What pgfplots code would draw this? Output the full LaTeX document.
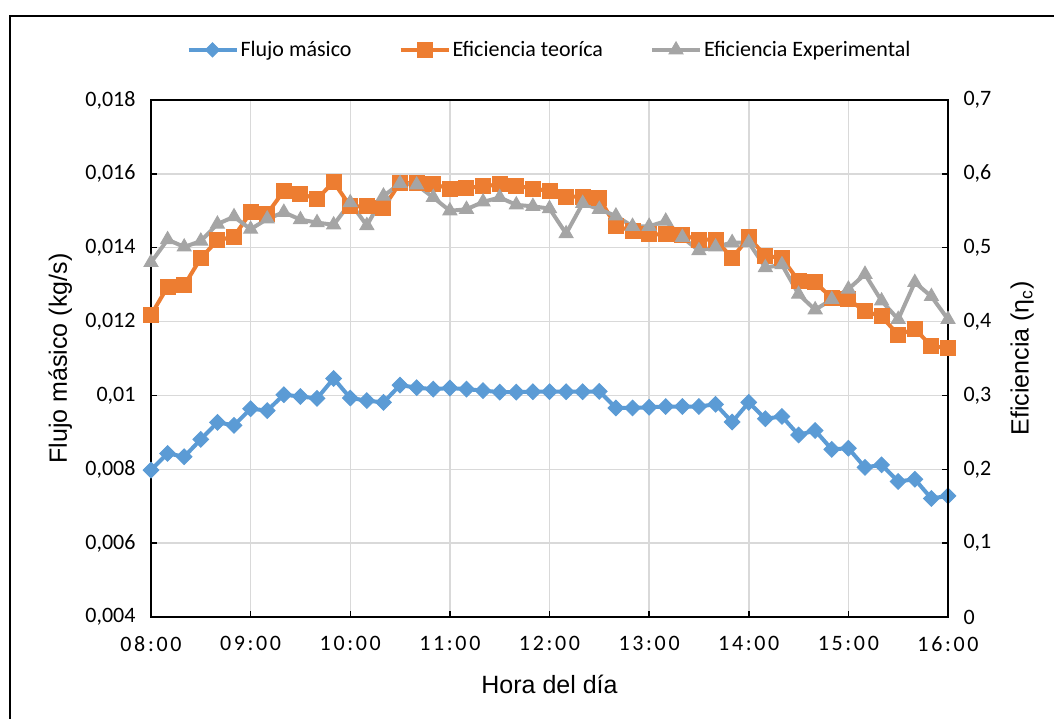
\documentclass[border=0pt]{standalone}
\usepackage{pgfplots}
\pgfplotsset{compat=1.18}
\usepackage{pgfplotstable}
\usepackage{fontspec}
\setmainfont{Carlito}
\newfontfamily\arialf{Liberation Sans}
\newfontfamily\tickf[LetterSpace=12]{Carlito}

\definecolor{cflujo}{HTML}{5B9BD5}
\definecolor{cteo}{HTML}{ED7D31}
\definecolor{cexp}{HTML}{A5A5A5}
\definecolor{cgrid}{HTML}{D9D9D9}

% t = minutos desde 00:00
\pgfplotstableread{
t   flujo    teo    exp
480 0.00798  0.409  0.480
490 0.00843  0.447  0.511
500 0.00834  0.449  0.501
510 0.00881  0.486  0.509
520 0.00927  0.510  0.532
530 0.00919  0.515  0.542
540 0.00964  0.548  0.525
550 0.00959  0.546  0.539
560 0.01002  0.577  0.548
570 0.00997  0.573  0.538
580 0.00992  0.566  0.534
590 0.01046  0.589  0.531
600 0.00993  0.556  0.561
610 0.00986  0.556  0.530
620 0.00981  0.554  0.570
630 0.01028  0.588  0.587
640 0.01021  0.587  0.585
650 0.01017  0.586  0.568
660 0.01020  0.580  0.550
670 0.01017  0.581  0.552
680 0.01013  0.583  0.562
690 0.01009  0.586  0.568
700 0.01009  0.584  0.558
710 0.01010  0.580  0.556
720 0.01010  0.577  0.553
730 0.01010  0.569  0.519
740 0.01010  0.569  0.560
750 0.01011  0.567  0.552
760 0.00966  0.529  0.543
770 0.00966  0.523  0.529
780 0.00968  0.518  0.529
790 0.00970  0.518  0.536
800 0.00970  0.517  0.514
810 0.00970  0.511  0.496
820 0.00976  0.511  0.501
830 0.00928  0.486  0.507
840 0.00981  0.514  0.507
850 0.00937  0.489  0.473
860 0.00943  0.486  0.477
870 0.00893  0.455  0.437
880 0.00905  0.453  0.416
890 0.00854  0.432  0.430
900 0.00857  0.430  0.444
910 0.00805  0.414  0.464
920 0.00812  0.407  0.428
930 0.00767  0.382  0.403
940 0.00773  0.390  0.453
950 0.00721  0.367  0.434
960 0.00728  0.364  0.403
}\datos

\pgfplotsset{
  base/.style={
    at={(151pt,101pt)}, anchor=south west,
    scale only axis, width=797pt, height=517pt,
    xmin=480, xmax=960,
    clip=false,
    scaled y ticks=false,
    tick align=inside,
    major tick length=6pt,
    tick style={black, line width=1.5pt},
    axis line style={black, line width=1.5pt},
    ticklabel style={font=\fontsize{22}{26}\selectfont},
    legend image code/.code={
      \draw[mark repeat=2, mark phase=2, #1]
        plot coordinates {(0pt,0pt) (24pt,0pt) (48pt,0pt)};
    },
  },
}

\begin{document}
\begin{tikzpicture}[x=1pt,y=1pt]
\useasboundingbox (0,0) rectangle (1054,718);
\draw[line width=2pt] (10,-20) -- (10,702) -- (1080,702);

\begin{axis}[
  base,
  ymin=0.004, ymax=0.018,
  xtick={480,540,600,660,720,780,840,900,960},
  xticklabels={08:00,09:00,10:00,11:00,12:00,13:00,14:00,15:00,16:00},
  xticklabel style={font=\tickf\fontsize{22}{26}\selectfont, yshift=-16pt},
  ytick={0.004,0.006,0.008,0.010,0.012,0.014,0.016,0.018},
  yticklabels={{0,004},{0,006},{0,008},{0,01},{0,012},{0,014},{0,016},{0,018}},
  yticklabel style={xshift=-12pt},
  xtick pos=bottom, ytick pos=left,
  grid=major,
  major grid style={cgrid, line width=1.5pt},
  xlabel={Hora del día},
  every axis x label/.style={at={(axis description cs:0.5,-0.13)}, anchor=center,
    font=\arialf\fontsize{25}{30}\selectfont},
  ylabel={Flujo másico (kg/s)},
  every axis y label/.style={at={(axis description cs:-0.114,0.5)}, rotate=90, anchor=center,
    font=\arialf\fontsize{25}{30}\selectfont},
]
\addplot[cflujo, line width=4pt, mark=square*, mark size=5.5pt,
  mark options={rotate=45, line width=1pt}]
  table[x=t, y=flujo] {\datos};
\end{axis}

\begin{axis}[
  base,
  ymin=0, ymax=0.7,
  axis x line=none,
  axis y line*=right,
  xtick=\empty,
  ytick={0,0.1,0.2,0.3,0.4,0.5,0.6,0.7},
  yticklabels={0,{0,1},{0,2},{0,3},{0,4},{0,5},{0,6},{0,7}},
  yticklabel style={xshift=12pt},
  ylabel={Eficiencia (η\textsubscript{c})},
  every axis y label/.style={at={(axis description cs:1.093,0.5)}, rotate=90, anchor=center,
    font=\arialf\fontsize{25}{30}\selectfont},
  legend columns=3,
  legend style={at={(0.5,1.097)}, anchor=center, draw=none, fill=none,
    font=\fontsize{22}{26}\selectfont,
    /tikz/every even column/.append style={column sep=45pt}},
]
\addlegendimage{cflujo, line width=4pt, mark=square*, mark size=5pt,
  mark options={rotate=45, line width=1pt}}
\addlegendentry{Flujo másico}
\addplot[cteo, line width=4pt, mark=square*, mark size=7.5pt,
  mark options={line width=1pt}]
  table[x=t, y=teo] {\datos};
\addlegendentry{Eficiencia teoríca}
\addplot[cexp, line width=4pt, mark=triangle*, mark size=8pt,
  mark options={line width=1pt}]
  table[x=t, y=exp] {\datos};
\addlegendentry{Eficiencia Experimental}
\end{axis}
\end{tikzpicture}
\end{document}
